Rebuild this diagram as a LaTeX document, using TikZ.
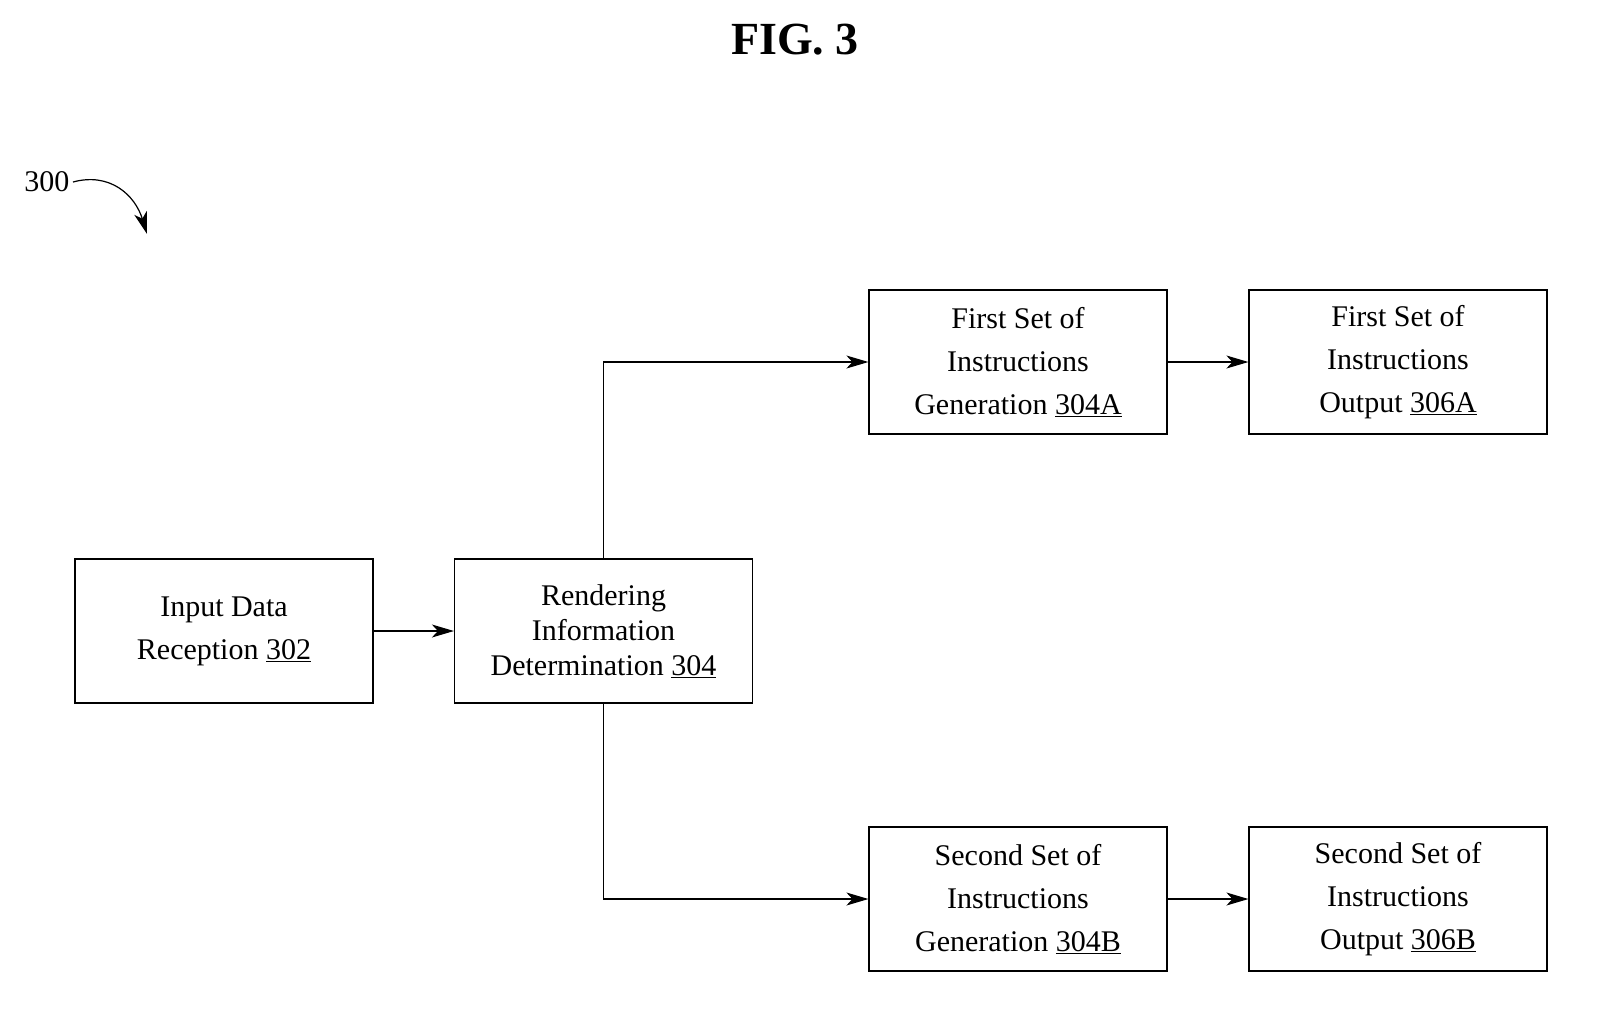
\documentclass[tikz,border=0pt]{standalone}
\usepackage{fontspec}
\setmainfont{Liberation Serif}
\usetikzlibrary{arrows.meta}
\begin{document}
\begin{tikzpicture}[x=1pt,y=-1pt,
  box/.style={draw,line width=1.2pt,minimum width=298pt,minimum height=144pt,align=center,font=\fontsize{30}{43}\selectfont,inner sep=0pt},
  arr/.style={line width=1.2pt,-{Stealth[length=22pt,width=13pt,inset=6pt]}}]
\useasboundingbox (0,0) rectangle (1602,1015);
\node[font=\bfseries\fontsize{46}{50}\selectfont] (fig) at (795,40) {FIG. 3};
\node[font=\fontsize{30}{36}\selectfont,anchor=east] (lbl) at (73,182) {300};
\coordinate (tip) at (147,234);
\draw[line width=1.2pt,-{Stealth[length=22pt,width=13pt,inset=6pt]}] (lbl.east) .. controls (110,172) and (135,195) .. (tip);
\node[box] (a) at (224,631) {Input Data\\Reception \underline{302}};
\node[box] (b) at (603.5,631) {Rendering\\[-8pt]Information\\[-8pt]Determination \underline{304}};
\node[box] (c) at (1018,362) {First Set of\\Instructions\\Generation \underline{304A}};
\node[box] (d) at (1398,362) {First Set of\\Instructions\\Output \underline{306A}};
\node[box] (e) at (1018,899) {Second Set of\\Instructions\\Generation \underline{304B}};
\node[box] (f) at (1398,899) {Second Set of\\Instructions\\Output \underline{306B}};
\draw[arr] (a) -- (b);
\draw[arr] (b.north) |- (c.west);
\draw[arr] (b.south) |- (e.west);
\draw[arr] (c) -- (d);
\draw[arr] (e) -- (f);
\end{tikzpicture}
\end{document}
